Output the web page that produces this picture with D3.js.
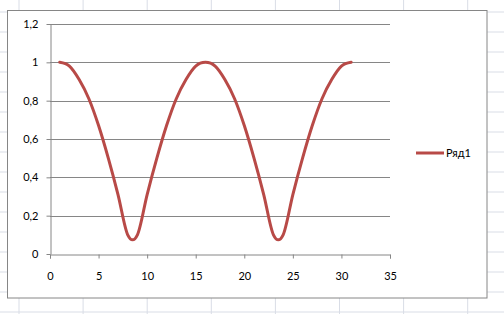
<!DOCTYPE html>
<html lang="ru">
<head>
    <meta charset="utf-8">
    <title>Ряд1</title>
    <style>
        body { margin: 0; background: #fff; }
        text { font-family: Lato, "Open Sans", sans-serif; font-size: 11px; fill: #000; }
    </style>
</head>
<body>
    <svg id="chart" width="504" height="314"></svg>
<script src="https://d3js.org/d3.v7.min.js"></script>
<script>
    // values
    const xValues = [1, 2, 3, 4, 5, 6, 7, 8, 9, 10, 11, 12, 13, 14, 15, 16,
        17, 18, 19, 20, 21, 22, 23, 24, 25, 26, 27, 28, 29, 30, 31]
    const yValues = [1, 0.98, 0.91, 0.81, 0.67, 0.5, 0.31, 0.1, 0.1, 0.31, 0.5, 0.67, 0.81, 0.91, 0.98, 1,
        0.98, 0.91, 0.81, 0.67, 0.5, 0.31, 0.1, 0.1, 0.31, 0.5, 0.67, 0.81, 0.91, 0.98, 1]
    const xTicks = [0, 5, 10, 15, 20, 25, 30, 35]
    const yTicks = [0, 0.2, 0.4, 0.6, 0.8, 1, 1.2]
    const seriesName = "Ряд1"

    let svg = d3.select("#chart")

    // spreadsheet cells behind the chart
    let cellCols = d3.range(19, 504, 64.1)
    let cellRows = d3.range(12, 314, 20)
    svg.append("g").selectAll("line").data(cellCols).join("line")
        .attr("x1", d => d).attr("x2", d => d)
        .attr("y1", 0).attr("y2", 314)
        .attr("stroke", "#d9dde6")
    svg.append("g").selectAll("line").data(cellRows).join("line")
        .attr("x1", 0).attr("x2", 504)
        .attr("y1", d => d).attr("y2", d => d)
        .attr("stroke", "#d9dde6")

    // chart area
    svg.append("rect")
        .attr("x", 7.5).attr("y", 10.5)
        .attr("width", 479.5).attr("height", 287.5)
        .attr("fill", "#fff")
        .attr("stroke", "#868686")

    let x = d3.scaleLinear().domain([0, 35]).range([50, 390])
    let y = d3.scaleLinear().domain([0, 1.2]).range([254, 24])
    let fmt = d => String(+d.toFixed(1)).replace(".", ",")

    // horizontal gridlines
    svg.append("g").selectAll("line").data(yTicks.slice(1)).join("line")
        .attr("x1", x(0)).attr("x2", x(35))
        .attr("y1", d => Math.round(y(d)) + 0.5).attr("y2", d => Math.round(y(d)) + 0.5)
        .attr("stroke", "#868686")

    let xAxis = d3.axisBottom(x).tickValues(xTicks).tickSize(4).tickPadding(14).tickFormat(d => d)
    svg.append("g")
        .attr("transform", "translate(0," + (Math.round(y(0)) + 0.5) + ")")
        .call(xAxis)
        .call(g => g.selectAll("path, line").attr("stroke", "#868686"))
        .call(g => g.selectAll("text").attr("font-size", null).attr("font-family", null))

    let yAxis = d3.axisLeft(y).tickValues(yTicks).tickSize(4).tickSizeOuter(0).tickPadding(8).tickFormat(fmt)
    svg.append("g")
        .attr("transform", "translate(" + (Math.round(x(0)) + 0.5) + ",0)")
        .call(yAxis)
        .call(g => g.selectAll("path, line").attr("stroke", "#868686"))
        .call(g => g.selectAll("text").attr("font-size", null).attr("font-family", null))

    // smoothed series line
    let points = xValues.map((v, i) => [v, yValues[i]])
    let line = d3.line()
        .x(d => x(d[0]))
        .y(d => y(d[1]))
        .curve(d3.curveCardinal)
    svg.append("path")
        .datum(points)
        .attr("d", line)
        .attr("fill", "none")
        .attr("stroke", "#b84a47")
        .attr("stroke-width", 3)
        .attr("stroke-linecap", "round")

    // legend
    svg.append("line")
        .attr("x1", 416).attr("x2", 444)
        .attr("y1", 153).attr("y2", 153)
        .attr("stroke", "#b84a47")
        .attr("stroke-width", 3)
    svg.append("text")
        .attr("x", 446).attr("y", 157)
        .text(seriesName)
</script>
</body>
</html>
